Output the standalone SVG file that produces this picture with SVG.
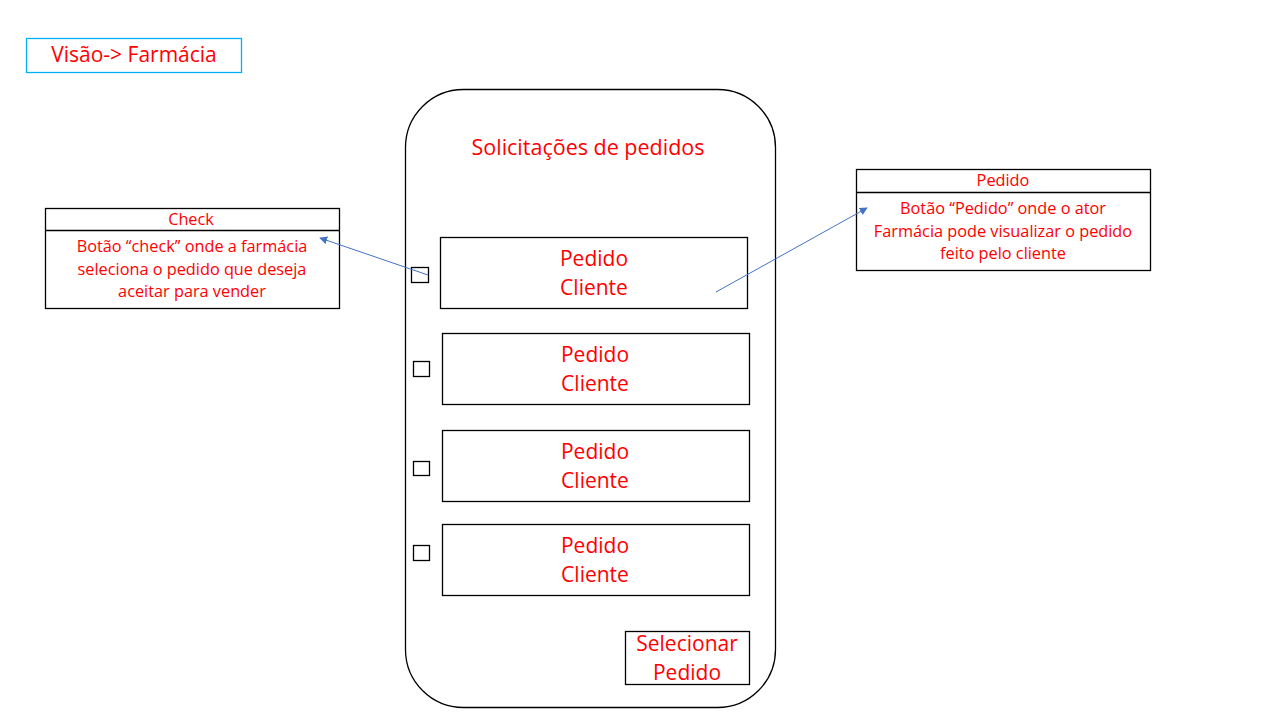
<svg xmlns="http://www.w3.org/2000/svg" width="1280" height="720" viewBox="0 0 1280 720">
<defs>
<style>
.b{fill:#fff;stroke:#000;stroke-width:1.3}
.t{fill:#ff0000;font-family:"Open Sans","Liberation Sans",sans-serif;text-anchor:middle}
.big{font-size:21px}
.sm{font-size:16.3px}
.c{stroke:#4472c4;stroke-width:1;fill:none;marker-end:url(#a)}
</style>
<marker id="a" viewBox="0 0 10 10" refX="9" refY="5" markerWidth="8" markerHeight="8" orient="auto" markerUnits="userSpaceOnUse"><path d="M0,0L10,5L0,10z" fill="#4472c4"/></marker>
</defs>
<rect width="1280" height="720" fill="#fff"/>
<g id="visao"><rect x="26.5" y="38.5" width="215" height="34" fill="#fff" stroke="#00b0f0" stroke-width="1.3"/><text class="t big" x="134" y="62">Visão-&gt; Farmácia</text></g>
<g id="phone"><rect class="b" x="405.5" y="89.5" width="370" height="618" rx="58"/><text class="t" x="588" y="155" font-size="21.5">Solicitações de pedidos</text></g>
<g id="pedido1"><rect class="b" x="440.5" y="237.5" width="307" height="71"/><text class="t big" x="594" y="266">Pedido</text><text class="t big" x="594" y="295">Cliente</text></g>
<g id="pedido2"><rect class="b" x="442.5" y="333.5" width="307" height="71"/><text class="t big" x="595" y="362">Pedido</text><text class="t big" x="595" y="391">Cliente</text></g>
<g id="pedido3"><rect class="b" x="442.5" y="430.5" width="307" height="71"/><text class="t big" x="595" y="459">Pedido</text><text class="t big" x="595" y="488">Cliente</text></g>
<g id="pedido4"><rect class="b" x="442.5" y="524.5" width="307" height="71"/><text class="t big" x="595" y="553">Pedido</text><text class="t big" x="595" y="582">Cliente</text></g>
<g id="check1"><rect class="b" x="411.5" y="267.5" width="17" height="15"/></g>
<g id="check2"><rect class="b" x="413.5" y="361.5" width="16" height="15"/></g>
<g id="check3"><rect class="b" x="413.5" y="461.5" width="16" height="14"/></g>
<g id="check4"><rect class="b" x="413.5" y="545.5" width="16" height="15"/></g>
<g id="selecionar"><rect class="b" x="625.5" y="631.5" width="124" height="53"/><text class="t big" x="687" y="651">Selecionar</text><text class="t big" x="687" y="680">Pedido</text></g>
<g id="note-check"><rect class="b" x="45.5" y="208.5" width="294" height="100"/><line x1="45.5" y1="230.5" x2="339.5" y2="230.5" stroke="#000" stroke-width="1.3"/><text class="t sm" x="191" y="225">Check</text><text class="t sm" x="192" y="252">Botão “check” onde a farmácia</text><text class="t sm" x="192" y="275">seleciona o pedido que deseja</text><text class="t sm" x="192" y="297">aceitar para vender</text></g>
<g id="note-pedido"><rect class="b" x="856.5" y="169.5" width="294" height="101"/><line x1="856.5" y1="192.5" x2="1150.5" y2="192.5" stroke="#000" stroke-width="1.3"/><text class="t sm" x="1003" y="186">Pedido</text><text class="t sm" x="1003" y="214">Botão “Pedido” onde o ator</text><text class="t sm" x="1003" y="237">Farmácia pode visualizar o pedido</text><text class="t sm" x="1003" y="259">feito pelo cliente</text></g>
<g id="connectors"><line class="c" x1="428" y1="275" x2="320" y2="238"/><line class="c" x1="716" y1="292" x2="867" y2="208"/></g>
</svg>
